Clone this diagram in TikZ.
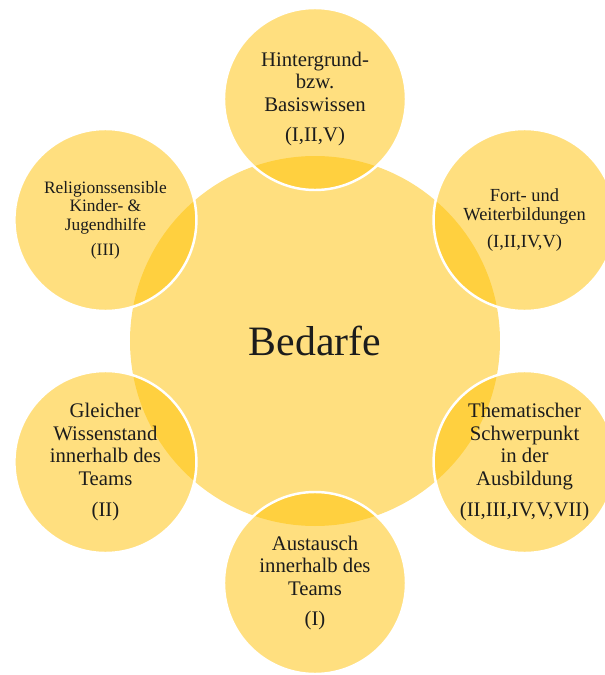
\documentclass[tikz,border=0pt]{standalone}
\usepackage{fontspec}
\setmainfont{Liberation Serif}
\definecolor{bedarfgold}{RGB}{255,192,0}
\definecolor{bedarfink}{RGB}{28,28,28}

\tikzset{
    bubble/.style={circle, fill=bedarfgold, fill opacity=0.5, text opacity=1,
        text=bedarfink, inner sep=0pt, align=center},
    hubbubble/.style={bubble, minimum size=7.4cm, font=\fontsize{23.8}{26}\selectfont},
    satbubble/.style={bubble, minimum size=3.64cm, draw=white, draw opacity=1, line width=1.4pt},
    bigtext/.style={font=\fontsize{11.8}{12.8}\selectfont},
    midtext/.style={font=\fontsize{10.5}{11.3}\selectfont},
    smalltext/.style={font=\fontsize{9.9}{10.5}\selectfont}
}

\begin{document}
\begin{tikzpicture}
    \useasboundingbox (-6.3,-6.68) rectangle (5.8,6.82);
    \clip (-6.3,-6.68) rectangle (5.8,6.82);
    % hub
    \node[hubbubble] (bedarfe) at (0,0) {Bedarfe};
    % satellites around the hub
    \node[satbubble, bigtext] (basis) at (90:4.84)
        {Hintergrund-\\bzw.\\Basiswissen\\[4.8pt](I,II,V)};
    \node[satbubble, midtext] (fortbildung) at (30:4.84)
        {Fort- und\\Weiterbildungen\\[4pt](I,II,IV,V)};
    \node[satbubble, bigtext] (ausbildung) at (-30:4.84)
        {Thematischer\\Schwerpunkt\\in der\\Ausbildung\\[4.8pt](II,III,IV,V,VII)};
    \node[satbubble, bigtext] (austausch) at (-90:4.84)
        {Austausch\\innerhalb des\\Teams\\[4.8pt](I)};
    \node[satbubble, bigtext] (wissenstand) at (210:4.84)
        {Gleicher\\Wissenstand\\innerhalb des\\Teams\\[4.8pt](II)};
    \node[satbubble, smalltext] (jugendhilfe) at (150:4.84)
        {Religionssensible\\Kinder- \&\\Jugendhilfe\\[3.7pt](III)};
\end{tikzpicture}
\end{document}
